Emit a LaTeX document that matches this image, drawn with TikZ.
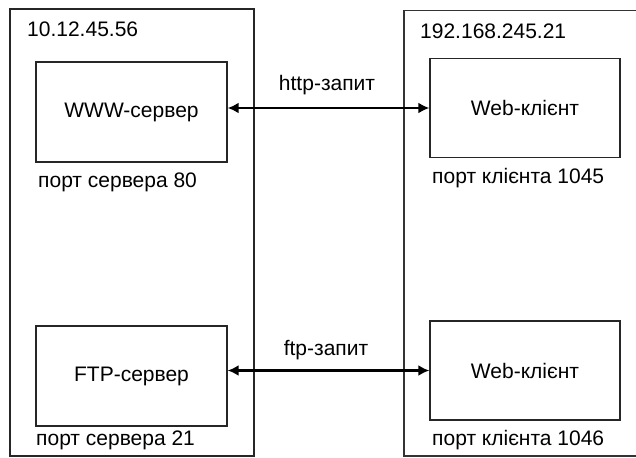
\documentclass[tikz,border=0pt]{standalone}
\usepackage{fontspec}
\setmainfont{Liberation Sans}
\usetikzlibrary{arrows.meta}
\begin{document}
\begin{tikzpicture}[x=1pt,y=-1pt,
  every node/.style={font=\fontsize{21}{24}\selectfont, inner sep=0pt},
  frame/.style={draw=black!80, line width=1.3pt},
  hostbox/.style={draw=black!85, line width=1.3pt, rectangle},
  link/.style={line width=2.6pt, {Latex[length=11pt,width=11pt]}-{Latex[length=11pt,width=11pt]}}]
\useasboundingbox (0,0) rectangle (636,457);
\fill[white] (0,0) rectangle (636,457);
% outer host areas
\node[hostbox, minimum width=244pt, minimum height=447pt] (hostA) at (132,232.5) {};
\coordinate (hostBtr) at (636,10.5);
\coordinate (hostBbl) at (404,456);
\draw[frame] (hostBtr) -| (hostBbl) -- (636,456);
% addresses
\node[anchor=base west] (ipA) at (27,37) {10.12.45.56};
\node[anchor=base west] (ipB) at (420,39) {192.168.245.21};
% boxes
\node[hostbox, minimum width=191pt, minimum height=100pt] (www) at (131.5,112) {WWW-сервер};
\node[hostbox, minimum width=190pt, minimum height=99pt] (web1) at (525,108) {Web-клієнт};
\node[hostbox, minimum width=191pt, minimum height=100pt] (ftp) at (131.5,376) {FTP-сервер};
\node[hostbox, minimum width=190pt, minimum height=99pt] (web2) at (525,370.5) {Web-клієнт};
% ports
\node[anchor=base west] (p80) at (38,187) {порт сервера 80};
\node[anchor=base west] (p1045) at (432,183) {порт клієнта 1045};
\node[anchor=base west] (p21) at (36,445) {порт сервера 21};
\node[anchor=base west] (p1046) at (432,445) {порт клієнта 1046};
% links
\draw[link] (www.east |- web1.west) -- (web1.west);
\draw[link] (ftp.east |- web2.west) -- (web2.west);
\node (http) at (327,85) {http-запит};
\node (ftpq) at (326,350) {ftp-запит};
\end{tikzpicture}
\end{document}
